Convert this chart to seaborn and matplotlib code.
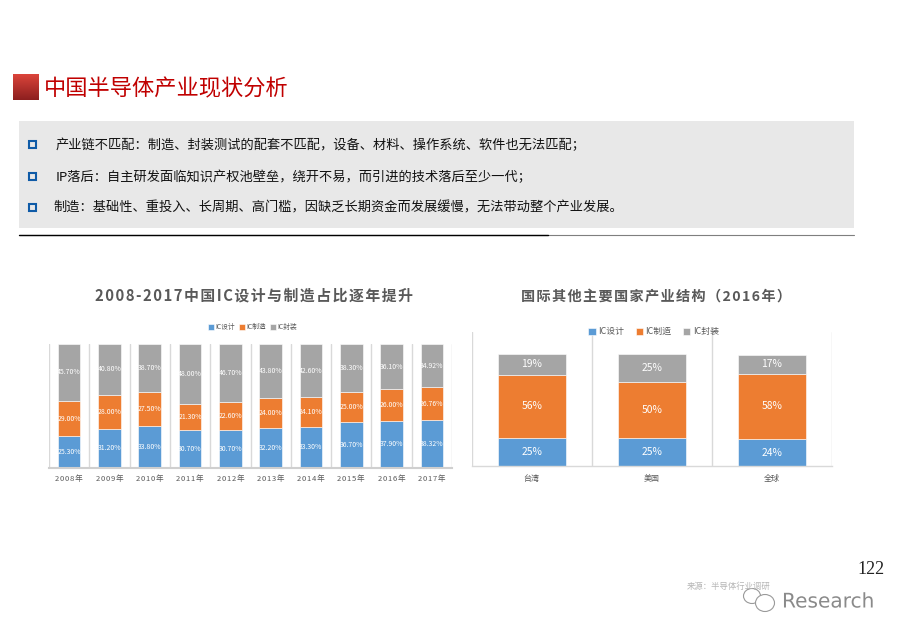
import numpy as np
import seaborn as sns
import matplotlib.pyplot as plt
import matplotlib.patheffects as pe
from matplotlib.patches import Rectangle, Ellipse

years = ['2008年', '2009年', '2010年', '2011年', '2012年', '2013年', '2014年', '2015年', '2016年', '2017年']
design_cn = [25.30, 31.20, 33.80, 30.70, 30.70, 32.20, 33.30, 36.70, 37.90, 38.32]
manuf_cn = [29.00, 28.00, 27.50, 21.30, 22.60, 24.00, 24.10, 25.00, 26.00, 26.76]
package_cn = [45.70, 40.80, 38.70, 48.00, 46.70, 43.80, 42.60, 38.30, 36.10, 34.92]

regions = ['台湾', '美国', '全球']
design_intl = [25, 25, 24]
manuf_intl = [56, 50, 58]
package_intl = [19, 25, 17]

series_names = ['IC设计', 'IC制造', 'IC封装']
series_colors = ['#5B9BD5', '#ED7D31', '#A5A5A5']

page_title = '中国半导体产业现状分析'
left_title = '2008-2017中国IC设计与制造占比逐年提升'
right_title = '国际其他主要国家产业结构（2016年）'
bullets = [
    '产业链不匹配：制造、封装测试的配套不匹配，设备、材料、操作系统、软件也无法匹配；',
    'IP落后：自主研发面临知识产权池壁垒，绕开不易，而引进的技术落后至少一代；',
    '制造：基础性、重投入、长周期、高门槛，因缺乏长期资金而发展缓慢，无法带动整个产业发展。',
]
bullet_x = [56, 56, 53]
bullet_y = [144, 176, 207]

W, H = 903, 639

sns.set_theme(style='white')
plt.rcParams['font.family'] = ['Noto Sans CJK SC', 'DejaVu Sans']


def spaced(text):
    # hair spaces between the characters, the titles are letter-spaced
    return '\u200a'.join(text)


def px_axes(fig, x0, y0, x1, y1):
    return fig.add_axes([x0 / W, 1 - y1 / H, (x1 - x0) / W, (y1 - y0) / H])


def stacked(ax, cats, rows, width, label_size, fmt):
    bottom = np.zeros(len(cats))
    for vals, name, color in zip(rows, series_names, series_colors):
        sns.barplot(x=cats, y=vals, bottom=bottom, color=color, width=width,
                    label=name, saturation=1, ax=ax, legend=False, linewidth=0.4)
        bottom = bottom + np.array(vals)
    for cont, vals in zip(ax.containers, rows):
        ax.bar_label(cont, labels=[fmt % v for v in vals], label_type='center',
                     color='white', fontsize=label_size)
    ax.set_xlim(-0.5, len(cats) - 0.5)
    ax.set_xticks(np.arange(len(cats) + 1) - 0.5, minor=True)
    ax.grid(False)
    ax.grid(True, which='minor', axis='x', color='#D9D9D9', lw=1)
    ax.set_axisbelow(True)
    ax.set_yticks([])
    ax.set_xlabel('')
    ax.set_ylabel('')
    ax.patch.set_alpha(0)
    for s in ['top', 'left', 'right']:
        ax.spines[s].set_visible(False)
    ax.tick_params(axis='x', which='both', length=0)


fig = plt.figure(figsize=(W / 100, H / 100), dpi=100)

# page furniture, in pixel coordinates
page = fig.add_axes([0, 0, 1, 1])
page.set_xlim(0, W)
page.set_ylim(H, 0)
page.axis('off')

grad = np.linspace(0, 1, 64).reshape(-1, 1)
red_top = np.array([0.86, 0.27, 0.23])
red_bot = np.array([0.55, 0.12, 0.12])
page.imshow(red_top + (red_bot - red_top) * grad[..., None], extent=[13, 39, 100, 74], aspect='auto')
page.set_xlim(0, W)
page.set_ylim(H, 0)
page.text(44, 89, page_title, color='#C00000', fontsize=16.0, va='center', ha='left')

page.add_patch(Rectangle((19, 121), 835, 107, fc='#E8E8E8', ec='none'))
for t, x, y in zip(bullets, bullet_x, bullet_y):
    page.add_patch(Rectangle((29, y - 3.5), 7, 7, fc='none', ec='#0F5BA7', lw=1.5))
    page.text(x, y + 1, t, color='#111111', fontsize=9.5, va='center', ha='left')
page.plot([19, 854], [234.5, 234.5], color='#7F7F7F', lw=0.8)
page.plot([19, 548], [234.5, 234.5], color='black', lw=1.0)

page.text(254, 296, spaced(left_title), color='#595959', fontsize=10.7, fontweight='bold', ha='center', va='center')
page.text(656, 298, spaced(right_title), color='#595959', fontsize=10.2, fontweight='bold', ha='center', va='center')

# left chart
ax1 = px_axes(fig, 49, 344.3, 452, 467.7)
stacked(ax1, years, [design_cn, manuf_cn, package_cn], 0.56, 5.0, '%.2f%%')
ax1.set_ylim(0, 100)
ax1.spines['bottom'].set_color('#CFCFCF')
ax1.spines['bottom'].set_linewidth(1.5)
ax1.set_xticks(range(len(years)))
ax1.set_xticklabels([spaced(y) for y in years], fontsize=5.5, color='#595959')
ax1.tick_params(axis='x', pad=5)
ax1.legend(loc='center', bbox_to_anchor=(0.505, 1.14), ncol=3, frameon=False, fontsize=4.9,
           handlelength=0.9, handleheight=0.9, handletextpad=0.2, columnspacing=0.6, labelcolor='#595959')

# right chart
ax2 = px_axes(fig, 471.7, 331.7, 832, 466)
stacked(ax2, regions, [design_intl, manuf_intl, package_intl], 0.5625, 7.4, '%d%%')
ax2.set_ylim(0, 119.6)
ax2.spines['bottom'].set_color('#D9D9D9')
ax2.spines['bottom'].set_linewidth(1)
ax2.set_xticks(range(len(regions)))
ax2.set_xticklabels(regions, fontsize=5.8, color='#595959')
ax2.tick_params(axis='x', pad=6)
ax2.legend(loc='center', bbox_to_anchor=(0.505, 1.0), ncol=3, frameon=False, fontsize=6.4,
           handlelength=0.8, handleheight=0.8, handletextpad=0.3, columnspacing=1.3, labelcolor='#595959')

# page number, faded source and watermark
over = fig.add_axes([0, 0, 1, 1])
over.set_xlim(0, W)
over.set_ylim(H, 0)
over.axis('off')
over.patch.set_alpha(0)
over.text(871, 569, '122', family='Liberation Serif', fontsize=13, color='#222222', ha='center', va='center')
over.text(687, 586, '来源：半导体行业调研', fontsize=6, color='#B5B5B5', ha='left', va='center')
over.add_patch(Rectangle((680, 586), 100, 10, fc='white', ec='none'))
outline = [pe.withStroke(linewidth=1.6, foreground='white')]
over.add_patch(Ellipse((752, 596), 17, 15, fc='none', ec='#9A9A9A', lw=0.8))
over.add_patch(Ellipse((765, 603), 19, 17, fc='white', ec='#9A9A9A', lw=0.8))
over.text(782, 602, 'Research', family='DejaVu Sans', fontsize=14.5, color='#8A8A8A', ha='left', va='center', path_effects=outline)

fig.savefig('out.png', dpi=100)
